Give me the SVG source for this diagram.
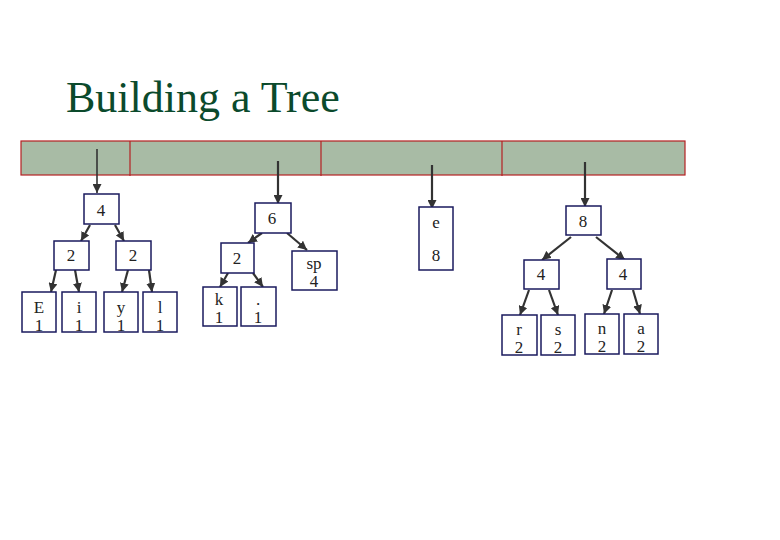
<svg xmlns="http://www.w3.org/2000/svg" width="780" height="540" viewBox="0 0 780 540">
<defs>
<marker id="ah" markerUnits="userSpaceOnUse" markerWidth="9" markerHeight="9" refX="9" refY="4.5" orient="auto">
<path d="M0,0 L9,4.5 L0,9 z" fill="#333"/>
</marker>
<style>
.box{fill:#fff;stroke:#1a1a5e;stroke-width:1.5}
.t{font-family:"Liberation Serif","Times New Roman",serif;font-size:17px;fill:#222;text-anchor:middle}
.c line{stroke:#333;stroke-width:2.2;marker-end:url(#ah)}
.bar{fill:#a8bba5;stroke:#b52022;stroke-width:1.2}
</style>
</defs>
<rect width="780" height="540" fill="#fff"/>
<text x="66" y="112" font-family="Liberation Serif,'Times New Roman',serif" font-size="44" fill="#0b4a2c">Building a Tree</text>
<g id="bar">
<rect class="bar" x="21" y="141" width="664" height="34"/>
<line x1="130" y1="141" x2="130" y2="176" stroke="#b52022" stroke-width="1.2"/>
<line x1="321" y1="141" x2="321" y2="176" stroke="#b52022" stroke-width="1.2"/>
<line x1="502" y1="141" x2="502" y2="176" stroke="#b52022" stroke-width="1.2"/>
</g>
<g class="c" id="connectors">
<line x1="97" y1="149" x2="97" y2="193" style="stroke-width:1.6"/>
<line x1="278" y1="161" x2="278" y2="204"/>
<line x1="432" y1="165" x2="432" y2="209"/>
<line x1="585" y1="162" x2="585" y2="207"/>
<line x1="90" y1="225" x2="81" y2="241"/>
<line x1="115" y1="225" x2="124" y2="241"/>
<line x1="56" y1="270" x2="51" y2="292"/>
<line x1="75" y1="270" x2="79" y2="292"/>
<line x1="128" y1="270" x2="122" y2="292"/>
<line x1="149" y1="270" x2="152" y2="292"/>
<line x1="262" y1="233" x2="248" y2="243"/>
<line x1="287" y1="233" x2="307" y2="250"/>
<line x1="228" y1="273" x2="220" y2="287"/>
<line x1="253" y1="273" x2="263" y2="287"/>
<line x1="571" y1="237" x2="542" y2="260"/>
<line x1="596" y1="237" x2="625" y2="260"/>
<line x1="529" y1="290" x2="520" y2="315"/>
<line x1="549" y1="290" x2="558" y2="315"/>
<line x1="612" y1="290" x2="604" y2="314"/>
<line x1="633" y1="290" x2="640" y2="314"/>
</g>
<g id="n4"><rect class="box" x="84" y="194" width="35" height="30"/><text class="t" x="101" y="216">4</text></g>
<g id="n2a"><rect class="box" x="54" y="241" width="35" height="29"/><text class="t" x="71" y="261">2</text></g>
<g id="n2b"><rect class="box" x="116" y="241" width="35" height="29"/><text class="t" x="133" y="261">2</text></g>
<g id="nE"><rect class="box" x="22" y="292" width="34" height="40"/><text class="t" x="39" y="313">E</text><text class="t" x="39" y="331">1</text></g>
<g id="ni"><rect class="box" x="62" y="292" width="34" height="40"/><text class="t" x="79" y="313">i</text><text class="t" x="79" y="331">1</text></g>
<g id="ny"><rect class="box" x="104" y="292" width="34" height="40"/><text class="t" x="121" y="313">y</text><text class="t" x="121" y="331">1</text></g>
<g id="nl"><rect class="box" x="143" y="292" width="34" height="40"/><text class="t" x="160" y="313">l</text><text class="t" x="160" y="331">1</text></g>
<g id="n6"><rect class="box" x="255" y="203" width="36" height="30"/><text class="t" x="272" y="224">6</text></g>
<g id="n2c"><rect class="box" x="221" y="243" width="33" height="30"/><text class="t" x="237" y="264">2</text></g>
<g id="nsp"><rect class="box" x="292" y="251" width="45" height="39"/><text class="t" x="314" y="269">sp</text><text class="t" x="314" y="287">4</text></g>
<g id="nk"><rect class="box" x="203" y="287" width="34" height="39"/><text class="t" x="219" y="305">k</text><text class="t" x="219" y="323">1</text></g>
<g id="ndot"><rect class="box" x="241" y="287" width="35" height="39"/><text class="t" x="258" y="305">.</text><text class="t" x="258" y="323">1</text></g>
<g id="ne"><rect class="box" x="419" y="207" width="34" height="63"/><text class="t" x="436" y="228" font-size="16">e</text><text class="t" x="436" y="261">8</text></g>
<g id="n8"><rect class="box" x="566" y="206" width="35" height="29"/><text class="t" x="583" y="227">8</text></g>
<g id="n4a"><rect class="box" x="524" y="260" width="35" height="29"/><text class="t" x="541" y="280">4</text></g>
<g id="n4b"><rect class="box" x="607" y="259" width="34" height="30"/><text class="t" x="623" y="280">4</text></g>
<g id="nr"><rect class="box" x="502" y="315" width="35" height="40"/><text class="t" x="519" y="335">r</text><text class="t" x="519" y="353">2</text></g>
<g id="ns"><rect class="box" x="541" y="315" width="34" height="40"/><text class="t" x="558" y="335">s</text><text class="t" x="558" y="353">2</text></g>
<g id="nn"><rect class="box" x="585" y="314" width="34" height="40"/><text class="t" x="602" y="334">n</text><text class="t" x="602" y="352">2</text></g>
<g id="na"><rect class="box" x="624" y="314" width="34" height="40"/><text class="t" x="641" y="334">a</text><text class="t" x="641" y="352">2</text></g>
</svg>
